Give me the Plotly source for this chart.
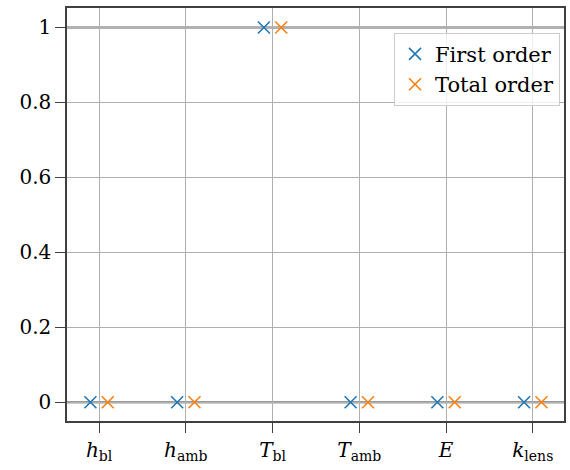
import numpy as np
import plotly.graph_objects as go

labels = ["<i>h</i><sub>bl</sub>", "<i>h</i><sub>amb</sub>", "<i>T</i><sub>bl</sub>",
          "<i>T</i><sub>amb</sub>", "<i>E</i>", "<i>k</i><sub>lens</sub>"]
first_order = [0.0, 0.0, 1.0, 0.0, 0.0, 0.0]
total_order = [0.0, 0.0, 1.0, 0.0, 0.0, 0.0]
y_ticks = [0, 0.2, 0.4, 0.6, 0.8, 1.0]

pos = np.arange(len(labels))
shift = 0.1
font = "DejaVu Serif"

fig = go.Figure()
fig.add_trace(go.Scatter(x=pos - shift, y=first_order, mode="markers", name="First order",
                         marker=dict(symbol="x-thin", size=12, line=dict(width=1.6, color="#1f77b4"),
                                     color="#1f77b4")))
fig.add_trace(go.Scatter(x=pos + shift, y=total_order, mode="markers", name="Total order",
                         marker=dict(symbol="x-thin", size=12, line=dict(width=1.6, color="#ff7f0e"),
                                     color="#ff7f0e")))
for yv in [0, 1]:
    fig.add_hline(y=yv, line=dict(color="#999999", width=2.5), layer="below")

fig.update_layout(
    width=570, height=470,
    margin=dict(l=67, r=6, t=8, b=49, autoexpand=False),
    plot_bgcolor="white", paper_bgcolor="white",
    font=dict(family=font, size=20, color="black"),
    showlegend=True,
    legend=dict(x=0.992, y=0.94, xanchor="right", yanchor="top",
                bgcolor="rgba(255,255,255,0.8)", bordercolor="#cccccc", borderwidth=1,
                font=dict(family=font, size=21), itemwidth=30, tracegroupgap=0),
)
fig.update_xaxes(range=[-0.37, 5.36], tickvals=pos, ticktext=labels,
                 showgrid=True, gridcolor="#b0b0b0", gridwidth=1,
                 showline=True, linecolor="#404040", linewidth=1.5, mirror=True,
                 ticks="outside", ticklen=10, tickcolor="#404040", zeroline=False,
                 automargin=False)
fig.update_yaxes(range=[-0.05, 1.052], tickvals=y_ticks,
                 showgrid=True, gridcolor="#b0b0b0", gridwidth=1,
                 showline=True, linecolor="#404040", linewidth=1.5, mirror=True,
                 ticks="outside", ticklen=10, tickcolor="#404040", zeroline=False,
                 automargin=False)

fig.write_html("out.html", config={"displayModeBar": False},
               post_script="document.body.style.margin='0';")
